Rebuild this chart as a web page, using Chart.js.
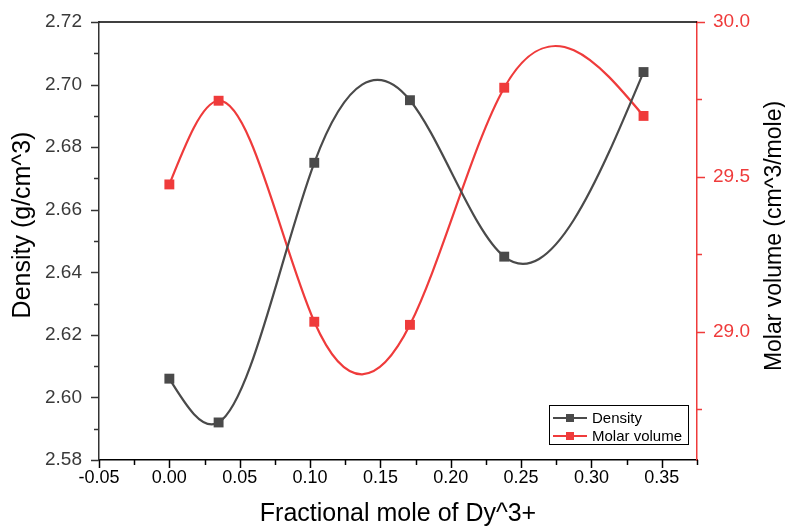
<!DOCTYPE html>
<html><head><meta charset="utf-8">
<script src="https://cdn.jsdelivr.net/npm/chart.js@4/dist/chart.umd.min.js"></script>
<style>html,body{margin:0;padding:0;background:#fff;}#wrap{width:785px;height:527px;}</style>
</head><body><div id="wrap"><canvas id="c" width="785" height="527"></canvas></div>
<script>
// ---- data ----
const fractionalMole = [0.000, 0.035, 0.103, 0.171, 0.238, 0.337];
const density = [2.606, 2.592, 2.675, 2.695, 2.645, 2.704];
const molarVolume = [29.476, 29.746, 29.033, 29.023, 29.788, 29.697];

const xMajorTicks = [-0.05, 0.00, 0.05, 0.10, 0.15, 0.20, 0.25, 0.30, 0.35];
const xMinorTicks = [-0.025, 0.025, 0.075, 0.125, 0.175, 0.225, 0.275, 0.325, 0.375];
const densityMajorTicks = [2.58, 2.60, 2.62, 2.64, 2.66, 2.68, 2.70, 2.72];
const densityMinorTicks = [2.59, 2.61, 2.63, 2.65, 2.67, 2.69, 2.71];
const volumeMajorTicks = [29.0, 29.5, 30.0];
const volumeMinorTicks = [28.75, 29.25, 29.75];

const seriesNames = ['Density', 'Molar volume'];
const GRAY = '#4a4a4a';
const RED = '#ef3b3b';
const FONT = "'Liberation Sans', Arial, Helvetica, sans-serif";

Chart.defaults.font.family = FONT;

// Shape the line between the data points as a natural cubic spline
// (sets the Bezier control points of the library's own line element).
const naturalSpline = {
  id: 'naturalSpline',
  beforeDatasetDraw(chart, args) {
    const line = args.meta.dataset;
    if (!line) return;
    if (typeof line.updateControlPoints === 'function') line.updateControlPoints(chart.chartArea, 'x');
    const pts = line.points;
    const n = pts.length;
    if (n < 3) return;
    const h = [], M = new Array(n).fill(0);
    for (let i = 0; i < n - 1; i++) h.push(pts[i + 1].x - pts[i].x);
    const a = [], b = [], c = [], d = [];
    for (let i = 1; i < n - 1; i++) {
      a.push(h[i - 1]); b.push(2 * (h[i - 1] + h[i])); c.push(h[i]);
      d.push(6 * ((pts[i + 1].y - pts[i].y) / h[i] - (pts[i].y - pts[i - 1].y) / h[i - 1]));
    }
    const m = b.length;
    for (let i = 1; i < m; i++) {
      const w = a[i] / b[i - 1];
      b[i] -= w * c[i - 1]; d[i] -= w * d[i - 1];
    }
    const sol = new Array(m);
    sol[m - 1] = d[m - 1] / b[m - 1];
    for (let i = m - 2; i >= 0; i--) sol[i] = (d[i] - c[i] * sol[i + 1]) / b[i];
    for (let i = 0; i < m; i++) M[i + 1] = sol[i];
    const slope = [];
    for (let i = 0; i < n - 1; i++) slope.push((pts[i + 1].y - pts[i].y) / h[i] - h[i] * (2 * M[i] + M[i + 1]) / 6);
    slope.push((pts[n - 1].y - pts[n - 2].y) / h[n - 2] + h[n - 2] * (M[n - 2] + 2 * M[n - 1]) / 6);
    for (let i = 0; i < n; i++) {
      const p = pts[i];
      if (i > 0) { p.cp1x = p.x - h[i - 1] / 3; p.cp1y = p.y - slope[i] * h[i - 1] / 3; }
      else { p.cp1x = p.x; p.cp1y = p.y; }
      if (i < n - 1) { p.cp2x = p.x + h[i] / 3; p.cp2y = p.y + slope[i] * h[i] / 3; }
      else { p.cp2x = p.x; p.cp2y = p.y; }
    }
    line._pointsUpdated = true;
    line._path = undefined;
  }
};

const extras = {
  id: 'extras',
  afterDraw(chart) {
    const ctx = chart.ctx;
    const a = chart.chartArea;
    ctx.save();
    ctx.strokeStyle = '#000';
    ctx.lineWidth = 1.5;
    ctx.beginPath();
    ctx.moveTo(a.left, a.top);
    ctx.lineTo(a.right, a.top);
    ctx.stroke();

    function ticksH(scale, vals, len, color) {
      ctx.strokeStyle = color; ctx.lineWidth = 1.5;
      vals.forEach(v => {
        const x = Math.round(scale.getPixelForValue(v)) + 0.5;
        ctx.beginPath(); ctx.moveTo(x, a.bottom); ctx.lineTo(x, a.bottom + len); ctx.stroke();
      });
    }
    function ticksV(scale, vals, len, color, side) {
      ctx.strokeStyle = color; ctx.lineWidth = 1.5;
      vals.forEach(v => {
        const y = Math.round(scale.getPixelForValue(v)) + 0.5;
        const x0 = side === 'left' ? a.left : a.right;
        const x1 = side === 'left' ? a.left - len : a.right + len;
        ctx.beginPath(); ctx.moveTo(x0, y); ctx.lineTo(x1, y); ctx.stroke();
      });
    }
    const sx = chart.scales.x, sy = chart.scales.y, sy1 = chart.scales.y1;
    ticksH(sx, xMajorTicks, 8, '#000');
    ticksH(sx, xMinorTicks, 5, '#000');
    ticksV(sy, densityMajorTicks, 8, '#333', 'left');
    ticksV(sy, densityMinorTicks, 5, '#333', 'left');
    ticksV(sy1, volumeMajorTicks, 8, RED, 'right');
    ticksV(sy1, volumeMinorTicks, 5, RED, 'right');

    function vTitle(text, x, y, size) {
      ctx.save();
      ctx.translate(x, y);
      ctx.rotate(-Math.PI / 2);
      ctx.fillStyle = '#000';
      ctx.font = size + "px " + FONT;
      ctx.textAlign = 'center';
      ctx.textBaseline = 'middle';
      ctx.fillText(text, 0, 0);
      ctx.restore();
    }
    vTitle(chart.options.scales.y.title.text, 23, 225, 25);
    vTitle(chart.options.scales.y1.title.text, 775, 236, 23);

    const bx = 549.5, by = 405.5, bw = 139, bh = 39;
    ctx.fillStyle = '#fff';
    ctx.fillRect(bx, by, bw, bh);
    ctx.strokeStyle = '#000'; ctx.lineWidth = 1;
    ctx.strokeRect(bx, by, bw, bh);
    chart.data.datasets.forEach((ds, i) => {
      const yy = 418 + i * 18;
      ctx.strokeStyle = ds.borderColor; ctx.lineWidth = 2;
      ctx.beginPath(); ctx.moveTo(553, yy); ctx.lineTo(587, yy); ctx.stroke();
      ctx.fillStyle = ds.borderColor;
      ctx.fillRect(566, yy - 4, 8, 8);
      ctx.fillStyle = '#000';
      ctx.font = "15px " + FONT;
      ctx.textAlign = 'left'; ctx.textBaseline = 'middle';
      ctx.fillText(ds.label, 592, yy + 1);
    });
    ctx.restore();
  }
};

function fixVPad(s, w) { s.width = w; s.paddingTop = 10; s.paddingBottom = 10; }

new Chart(document.getElementById('c'), {
  type: 'line',
  data: {
    datasets: [
      {
        label: seriesNames[0],
        data: fractionalMole.map((x, i) => ({x: x, y: density[i]})),
        yAxisID: 'y',
        borderColor: GRAY, backgroundColor: GRAY,
        borderWidth: 2.2, pointStyle: 'rect', pointRadius: 7, pointBorderWidth: 0,
        tension: 0.4, fill: false
      },
      {
        label: seriesNames[1],
        data: fractionalMole.map((x, i) => ({x: x, y: molarVolume[i]})),
        yAxisID: 'y1',
        borderColor: RED, backgroundColor: RED,
        borderWidth: 2.2, pointStyle: 'rect', pointRadius: 7, pointBorderWidth: 0,
        tension: 0.4, fill: false
      }
    ]
  },
  options: {
    responsive: false,
    devicePixelRatio: 1,
    animation: false,
    layout: {padding: {top: 22, left: 0, right: 0, bottom: 0}},
    plugins: {legend: {display: false}, tooltip: {enabled: false}},
    scales: {
      x: {
        type: 'linear', position: 'bottom', min: -0.05, max: 0.375,
        afterBuildTicks: s => { s.ticks = xMajorTicks.map(v => ({value: v})); },
        afterFit: s => { s.height = 67; },
        ticks: {callback: v => Number(v).toFixed(2), font: {size: 18}, color: '#000', padding: 7, maxRotation: 0, autoSkip: false},
        grid: {display: false, drawTicks: false},
        border: {display: true, color: '#000', width: 1.5},
        title: {display: true, text: 'Fractional mole of Dy^3+', font: {size: 25, lineHeight: 1}, color: '#000', padding: {top: 0, bottom: 0}}
      },
      y: {
        type: 'linear', position: 'left', min: 2.58, max: 2.72,
        afterBuildTicks: s => { s.ticks = densityMajorTicks.map(v => ({value: v})); },
        afterFit: s => fixVPad(s, 99),
        ticks: {callback: v => Number(v).toFixed(2), font: {size: 19}, color: '#3a3a3a', padding: 17, autoSkip: false},
        grid: {display: false, drawTicks: false},
        border: {display: true, color: '#333', width: 1.5},
        title: {display: false, text: 'Density (g/cm^3)'}
      },
      y1: {
        type: 'linear', position: 'right', min: 28.587, max: 30.0,
        afterBuildTicks: s => { s.ticks = volumeMajorTicks.map(v => ({value: v})); },
        afterFit: s => fixVPad(s, 88),
        ticks: {callback: v => Number(v).toFixed(1), font: {size: 19}, color: RED, padding: 16, autoSkip: false},
        grid: {display: false, drawTicks: false},
        border: {display: true, color: RED, width: 1.5},
        title: {display: false, text: 'Molar volume (cm^3/mole)'}
      }
    }
  },
  plugins: [naturalSpline, extras]
});
</script></body></html>
